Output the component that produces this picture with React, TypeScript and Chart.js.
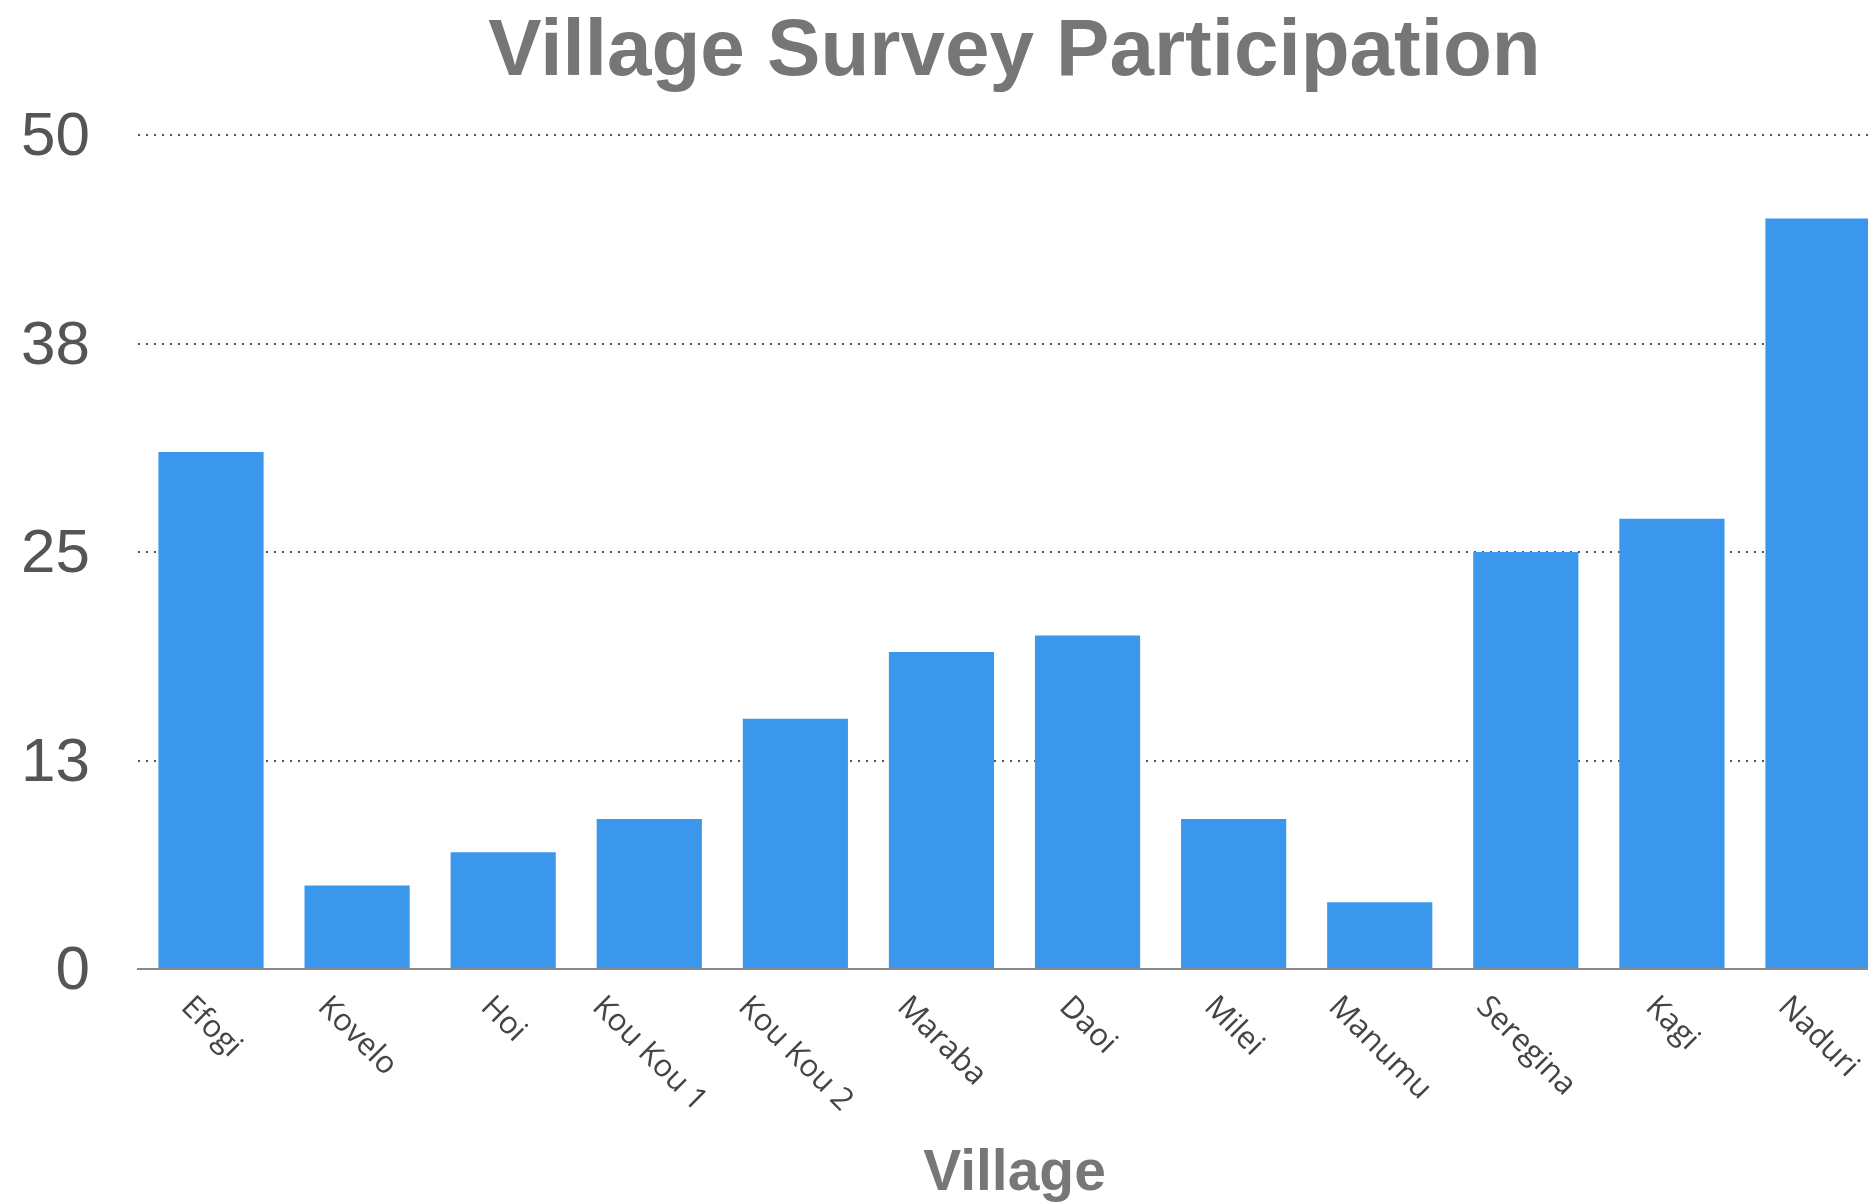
import React, { useEffect, useRef } from "react";
import { Chart, registerables } from "chart.js";

Chart.register(...registerables);

const villages = [
  "Efogi",
  "Kovelo",
  "Hoi",
  "Kou Kou 1",
  "Kou Kou 2",
  "Maraba",
  "Daoi",
  "Milei",
  "Manumu",
  "Seregina",
  "Kagi",
  "Naduri",
];
const participants = [31, 5, 7, 9, 15, 19, 20, 9, 4, 25, 27, 45];
const yMin = 0;
const yMax = 50;
const yStep = 12.5;
const chartTitle = "Village Survey Participation";
const xTitle = "Village";

const rotatedLabels = {
  id: "rotatedXLabels",
  afterDraw(chart: any) {
    const xs = chart.scales.x;
    const ctx = chart.ctx;
    const size = 31;
    ctx.save();
    ctx.font = `${size}px "Open Sans"`;
    ctx.fillStyle = "#444444";
    ctx.textAlign = "center";
    ctx.textBaseline = "middle";
    const top = xs.top + 25;
    const h = size * 0.72;
    villages.forEach((label, i) => {
      const w = ctx.measureText(label).width;
      const cx = xs.getPixelForTick(i);
      const cy = top + (Math.SQRT1_2 * (w + h)) / 2;
      ctx.save();
      ctx.translate(cx, cy);
      ctx.rotate(Math.PI / 4);
      ctx.fillText(label, 0, 0);
      ctx.restore();
    });
    ctx.restore();
  },
};

const tickFont = { family: "Liberation Sans", size: 62 };
const roundTick = (v: any) => String(Math.round(Number(v)));

export default function App() {
  const ref = useRef<HTMLCanvasElement>(null);

  useEffect(() => {
    document.documentElement.style.overflow = "hidden";
    document.body.style.overflow = "hidden";
    const chart = new Chart(ref.current!, {
      type: "bar",
      data: {
        labels: villages,
        datasets: [
          {
            data: participants,
            backgroundColor: "#3b97ec",
            borderWidth: 0,
            categoryPercentage: 0.8,
            barPercentage: 0.9,
            yAxisID: "y",
          },
        ],
      },
      plugins: [rotatedLabels],
      options: {
        responsive: false,
        animation: false,
        layout: { padding: 0 },
        plugins: {
          legend: { display: false },
          tooltip: { enabled: false },
          title: {
            display: true,
            text: chartTitle,
            color: "#767676",
            font: { family: "Liberation Sans", size: 80, weight: "bold", lineHeight: 1 },
            padding: { top: 3, bottom: 42 },
          },
        },
        scales: {
          x: {
            z: 1,
            ticks: { display: false },
            grid: { display: true, drawOnChartArea: false, drawTicks: false, color: "rgba(0,0,0,0)" },
            border: { display: true, color: "#8a8a8a", width: 2 },
            title: {
              display: true,
              text: xTitle,
              color: "#777777",
              font: { family: "Liberation Sans", size: 57, weight: "bold", lineHeight: 1 },
              padding: { top: 177, bottom: 27 },
            },
          },
          y: {
            z: 1,
            position: "left",
            min: yMin,
            max: yMax,
            ticks: {
              stepSize: yStep,
              callback: roundTick,
              color: "#555555",
              font: tickFont,
              padding: 48,
              labelOffset: 3,
            },
            grid: { color: "rgba(55,55,55,0.85)", lineWidth: 2, drawTicks: false },
            border: { display: false, dash: [2, 6] },
          },
          yRight: {
            position: "right",
            min: yMin,
            max: yMax,
            ticks: {
              stepSize: yStep,
              callback: roundTick,
              color: "rgba(0,0,0,0)",
              font: tickFont,
              padding: 48,
            },
            grid: { drawOnChartArea: false, drawTicks: false },
            border: { display: false },
          },
        },
      },
    });
    return () => chart.destroy();
  }, []);

  return (
    <div style={{ width: 2083, height: 1220, marginLeft: -35, marginTop: 2 }}>
      <canvas ref={ref} width={2083} height={1220} style={{ display: "block" }} />
    </div>
  );
}
